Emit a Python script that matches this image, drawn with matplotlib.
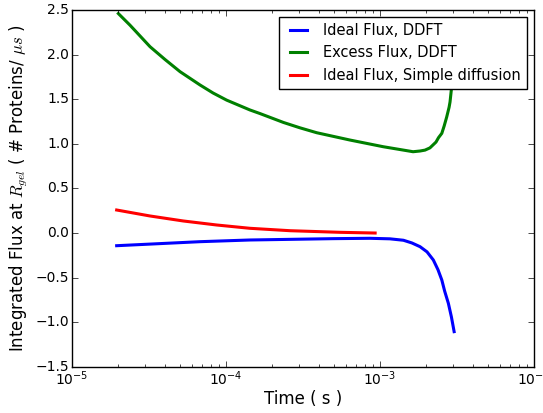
import numpy as np
import matplotlib
matplotlib.use("Agg")
import matplotlib.pyplot as plt

plt.style.use('classic')

# green: excess flux, DDFT
t_excess = [2.0e-5, 2.38e-5, 3.21e-5, 4.02e-5, 5.03e-5, 6.78e-5, 8.24e-5, 1.01e-4, 1.43e-4,
            1.66e-4, 2.36e-4, 3.02e-4, 3.88e-4, 6.38e-4, 1.05e-3, 1.64e-3, 1.82e-3, 1.96e-3,
            2.11e-3, 2.31e-3, 2.40e-3, 2.52e-3, 2.61e-3, 2.71e-3, 2.81e-3, 2.85e-3, 2.92e-3,
            3.0e-3]
excess_ddft = [2.46, 2.33, 2.089, 1.945, 1.809, 1.66, 1.57, 1.49, 1.38,
               1.34, 1.24, 1.18, 1.125, 1.043, 0.968, 0.912, 0.92, 0.93,
               0.955, 1.02, 1.07, 1.118, 1.20, 1.30, 1.41, 1.47, 1.64,
               1.85]

# blue: ideal flux, DDFT
t_ideal = [1.95e-5, 6.78e-5, 1.43e-4, 1.84e-4, 4.98e-4, 8.6e-4, 1.16e-3, 1.42e-3, 1.61e-3,
           1.82e-3, 2.02e-3, 2.22e-3, 2.38e-3, 2.52e-3, 2.63e-3, 2.78e-3, 2.91e-3, 3.03e-3]
ideal_ddft = [-0.141, -0.096, -0.077, -0.074, -0.062, -0.058, -0.064, -0.08, -0.11,
              -0.152, -0.21, -0.301, -0.41, -0.525, -0.65, -0.787, -0.94, -1.104]

# red: ideal flux, simple diffusion
t_simple = [1.95e-5, 3.21e-5, 5.28e-5, 8.7e-5, 1.43e-4, 2.61e-4, 5.5e-4, 9.3e-4]
ideal_simple = [0.259, 0.192, 0.136, 0.091, 0.054, 0.027, 0.009, 0.001]

fig = plt.figure(figsize=(5.43, 4.13), dpi=100, facecolor='white')
ax = fig.add_axes([0.1326, 0.1114, 0.8508, 0.8644])

ax.plot(t_ideal, ideal_ddft, color='blue', lw=2.2, label='Ideal Flux, DDFT')
ax.plot(t_excess, excess_ddft, color='green', lw=2.2, label='Excess Flux, DDFT')
ax.plot(t_simple, ideal_simple, color='red', lw=2.2, label='Ideal Flux, Simple diffusion')

ax.set_xscale('log')
ax.set_xlim(1e-5, 1e-2)
ax.set_ylim(-1.5, 2.5)
ax.tick_params(labelsize=10, pad=2)
ax.tick_params(which='minor', pad=2)
ax.set_xlabel('Time ( s )', fontsize=12, labelpad=1)
ax.set_ylabel(r'Integrated Flux at $R_{gel}$ ( # Proteins/ $\mu s$ )', fontsize=12, labelpad=4)
ax.legend(loc='upper right', fontsize=10.5, handlelength=1.8)

fig.savefig('out.png', dpi=100, facecolor='white')
